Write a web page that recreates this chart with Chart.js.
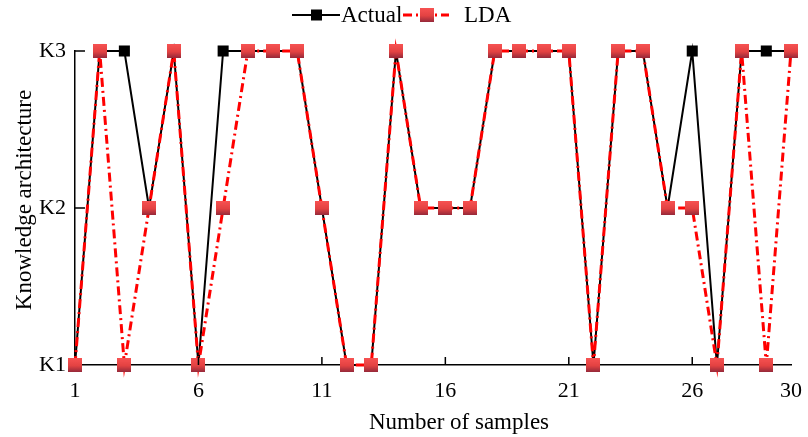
<!DOCTYPE html>
<html>
<head>
<meta charset="utf-8">
<script src="https://cdn.jsdelivr.net/npm/chart.js@4"></script>
<style>
  html, body { margin: 0; padding: 0; background: #fff; }
  #wrap { width: 808px; height: 437px; }
</style>
</head>
<body>
<div id="wrap"><canvas id="chart" width="808" height="437"></canvas></div>
<script>
const samples = [1, 2, 3, 4, 5, 6, 7, 8, 9, 10, 11, 12, 13, 14, 15, 16, 17, 18, 19, 20, 21, 22, 23, 24, 25, 26, 27, 28, 29, 30];
const actual = [1, 3, 3, 2, 3, 1, 3, 3, 3, 3, 2, 1, 1, 3, 2, 2, 2, 3, 3, 3, 3, 1, 3, 3, 2, 3, 1, 3, 3, 3];
const lda = [1, 3, 1, 2, 3, 1, 2, 3, 3, 3, 2, 1, 1, 3, 2, 2, 2, 3, 3, 3, 3, 1, 3, 3, 2, 2, 1, 3, 1, 3];
const xTicks = [1, 6, 11, 16, 21, 26, 30];
const yLabels = { 1: "K1", 2: "K2", 3: "K3" };
const xTitle = "Number of samples";
const yTitle = "Knowledge architecture";

const FONT = "'Liberation Serif', 'Times New Roman', serif";
const RED_DASH = [9, 4, 2, 4];

// red square marker with a vertical shading
function redMarker(size) {
  const c = document.createElement("canvas");
  c.width = size;
  c.height = size;
  const g = c.getContext("2d");
  const grad = g.createLinearGradient(0, 0, 0, size);
  grad.addColorStop(0, "#f75252");
  grad.addColorStop(0.55, "#e34242");
  grad.addColorStop(1, "#96293a");
  g.fillStyle = grad;
  g.fillRect(0, 0, size, size);
  return c;
}
const redSquare = redMarker(14);

const points = (ys) => samples.map((x, i) => ({ x: x, y: ys[i] }));

// inward tick marks, axis titles and the legend at the top
const decorations = {
  id: "decorations",
  afterDraw(chart) {
    const ctx = chart.ctx;
    const xs = chart.scales.x;
    const ys = chart.scales.y;
    ctx.save();
    ctx.strokeStyle = "#000";
    ctx.lineWidth = 1.5;
    ctx.beginPath();
    xTicks.slice(1, -1).forEach((v) => {
      const px = xs.getPixelForValue(v);
      ctx.moveTo(px, ys.bottom);
      ctx.lineTo(px, ys.bottom - 8);
    });
    [2, 3].forEach((v) => {
      const py = ys.getPixelForValue(v);
      ctx.moveTo(xs.left, py);
      ctx.lineTo(xs.left + 10, py);
    });
    ctx.stroke();

    ctx.fillStyle = "#000";
    ctx.font = "23px " + FONT;
    ctx.textBaseline = "middle";
    ctx.textAlign = "center";
    ctx.fillText(xTitle, 459, 423);
    ctx.save();
    ctx.translate(25, 200);
    ctx.rotate(-Math.PI / 2);
    ctx.fillText(yTitle, 0, 0);
    ctx.restore();

    // legend
    const ly = 15;
    ctx.lineWidth = 2;
    ctx.beginPath();
    ctx.moveTo(292, ly);
    ctx.lineTo(340, ly);
    ctx.stroke();
    ctx.fillRect(311, ly - 5.5, 11, 11);

    ctx.strokeStyle = "#ff0000";
    ctx.lineWidth = 3;
    ctx.setLineDash(RED_DASH);
    ctx.beginPath();
    ctx.moveTo(403, ly);
    ctx.lineTo(449, ly);
    ctx.stroke();
    ctx.setLineDash([]);
    ctx.drawImage(redSquare, 420, ly - 7);

    ctx.fillStyle = "#000";
    ctx.textAlign = "left";
    ctx.fillText("Actual", 341, ly + 1);
    ctx.fillText("LDA", 464, ly + 1);
    ctx.restore();
  },
};

new Chart(document.getElementById("chart"), {
  type: "line",
  data: {
    datasets: [
      {
        label: "LDA",
        data: points(lda),
        borderColor: "#ff0000",
        borderWidth: 3,
        borderDash: RED_DASH,
        pointStyle: redSquare,
        pointRadius: 7,
        pointHoverRadius: 7,
        tension: 0,
        clip: false,
        order: 0,
      },
      {
        label: "Actual",
        data: points(actual),
        borderColor: "#000",
        borderWidth: 2,
        backgroundColor: "#000",
        pointStyle: "rect",
        pointRadius: 7.8,
        pointHoverRadius: 7.8,
        pointBorderWidth: 0,
        pointBackgroundColor: "#000",
        tension: 0,
        clip: false,
        order: 1,
      },
    ],
  },
  options: {
    responsive: false,
    animation: false,
    events: [],
    layout: { padding: { top: 51, right: 17, left: 0, bottom: 0 } },
    plugins: { legend: { display: false }, tooltip: { enabled: false } },
    scales: {
      x: {
        type: "linear",
        min: 1,
        max: 30,
        afterBuildTicks: (scale) => {
          scale.ticks = xTicks.map((v) => ({ value: v }));
        },
        afterFit: (scale) => {
          scale.height = 72;
          scale.paddingLeft = 0;
          scale.paddingRight = 0;
        },
        grid: { display: false, drawTicks: false },
        border: { display: true, color: "#000", width: 1.5 },
        ticks: {
          autoSkip: false,
          maxRotation: 0,
          padding: 13,
          color: "#000",
          font: { family: FONT, size: 22 },
        },
      },
      y: {
        type: "linear",
        min: 1,
        max: 3,
        afterFit: (scale) => {
          scale.width = 75;
          scale.paddingTop = 0;
          scale.paddingBottom = 0;
        },
        grid: { display: false, drawTicks: false },
        border: { display: true, color: "#000", width: 1.5 },
        ticks: {
          stepSize: 1,
          padding: 9,
          color: "#000",
          font: { family: FONT, size: 22 },
          callback: (v) => yLabels[v] || "",
        },
      },
    },
  },
  plugins: [decorations],
});
</script>
</body>
</html>
